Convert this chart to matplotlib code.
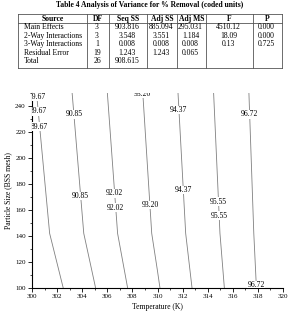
import numpy as np
import matplotlib
matplotlib.use("Agg")
import matplotlib.pyplot as plt

plt.rcParams["font.family"] = ["Liberation Serif", "DejaVu Serif"]

# ANOVA table
title = "Table 4 Analysis of Variance for % Removal (coded units)"
headers = ["Source", "DF", "Seq SS", "Adj SS", "Adj MS", "F", "P"]
sources = ["Main Effects", "2-Way Interactions", "3-Way Interactions", "Residual Error", "Total"]
df_vals = ["3", "3", "1", "19", "26"]
seq_ss = ["903.816", "3.548", "0.008", "1.243", "908.615"]
adj_ss = ["885.094", "3.551", "0.008", "1.243", ""]
adj_ms = ["295.031", "1.184", "0.008", "0.065", ""]
f_vals = ["4510.12", "18.09", "0.13", "", ""]
p_vals = ["0.000", "0.000", "0.725", "", ""]

# % removal
temps = [300, 305, 310, 315, 320]
sizes = [100, 142, 250]
removal = [
    [88.53, 90.82, 93.11, 95.40, 97.69],
    [89.06, 91.23, 93.40, 95.56, 97.73],
    [89.52, 91.60, 93.69, 95.77, 97.85],
]
levels = [89.67, 90.85, 92.02, 93.20, 94.37, 95.55, 96.72]
label_spots = [
    (300.5, 247), (300.5, 236), (300.4, 224),
    (303.4, 233.6), (303.8, 170.8),
    (306.5, 172.8), (306.6, 161.8),
    (308.8, 249.5), (309.3, 163.8),
    (311.7, 237), (311.9, 175.4),
    (314.8, 166.4), (314.85, 155.6),
    (317.3, 233.6), (317.9, 102),
]

W, H = 293, 319
fig = plt.figure(figsize=(W / 100, H / 100), dpi=100)

# table drawn in pixel coordinates
tab = fig.add_axes([0, 0, 1, 1])
tab.set_xlim(0, W)
tab.set_ylim(H, 0)
tab.axis("off")

col_edges = [18, 87, 109, 147, 177, 206, 253, 282]
top, head_bot, bot = 14, 22.7, 67.7
lk = dict(color="#555555", lw=0.6)
for y in (top, head_bot, bot):
    tab.plot([col_edges[0], col_edges[-1]], [y, y], **lk)
for x in col_edges:
    tab.plot([x, x], [top, bot], **lk)

tab.text(150, 7, title, ha="center", va="baseline", fontsize=5.5, fontweight="bold")
fs = 5.5
for i, h in enumerate(headers):
    cx = (col_edges[i] + col_edges[i + 1]) / 2
    tab.text(cx, (top + head_bot) / 2 + 0.3, h, ha="center", va="center", fontsize=fs, fontweight="bold")

columns = [df_vals, seq_ss, adj_ss, adj_ms, f_vals, p_vals]
for r, src in enumerate(sources):
    y = 26.9 + r * 8.6
    tab.text(24, y, src, ha="left", va="center", fontsize=fs)
    for c, col in enumerate(columns):
        cx = (col_edges[c + 1] + col_edges[c + 2]) / 2 - 1
        tab.text(cx, y, col[r], ha="center", va="center", fontsize=fs)

# contour plot
ax = fig.add_axes([32 / W, 31 / H, 251 / W, 195 / H])
T, P = np.meshgrid(temps, sizes)
cs = ax.contour(T, P, np.array(removal), levels=levels, colors="#808080", linewidths=0.6)
labels = ax.clabel(cs, manual=label_spots, inline=False, fmt="%.2f", fontsize=5.5,
                   colors="black")
for t in labels:
    t.set_rotation(0)
    t.set_clip_on(True)
    t.set_bbox(dict(facecolor="white", edgecolor="none", pad=0.2))

ax.set_xlim(300, 320)
ax.set_ylim(100, 250)
ax.set_xticks(range(300, 321, 2))
ax.set_xticks(range(301, 320, 2), minor=True)
ax.set_yticks(range(100, 241, 20))
ax.set_yticks(range(110, 251, 20), minor=True)
for s in ("top", "right"):
    ax.spines[s].set_visible(False)
for s in ("left", "bottom"):
    ax.spines[s].set_linewidth(0.8)
ax.tick_params(which="major", length=3, width=0.6, labelsize=5, pad=1.5)
ax.tick_params(which="minor", length=1.5, width=0.5)
ax.set_xlabel("Temperature (K)", fontsize=5.5, labelpad=3)
ax.set_ylabel("Particle Size (BSS mesh)", fontsize=5.5, labelpad=2)

fig.savefig("out.png", dpi=100)
